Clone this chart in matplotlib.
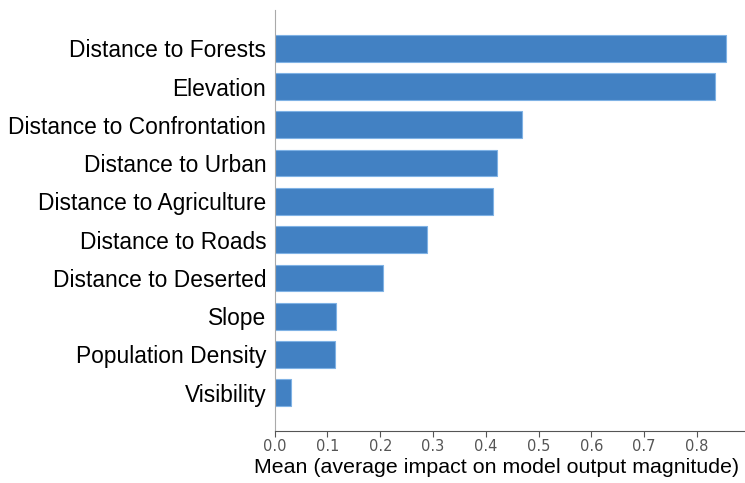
import matplotlib
matplotlib.use("Agg")
import matplotlib.pyplot as plt

features = ["Visibility", "Population Density", "Slope", "Distance to Deserted",
            "Distance to Roads", "Distance to Agriculture", "Distance to Urban",
            "Distance to Confrontation", "Elevation", "Distance to Forests"]
mean_shap = [0.030, 0.114, 0.117, 0.205, 0.288, 0.414, 0.421, 0.469, 0.835, 0.855]
xticks = [0.0, 0.1, 0.2, 0.3, 0.4, 0.5, 0.6, 0.7, 0.8]

plt.rcParams['font.family'] = ['Liberation Sans', 'DejaVu Sans']

fig = plt.figure(figsize=(7.45, 4.83), dpi=100)
ax = fig.add_axes([0.3687, 0.1077, 0.6313, 0.8716])

ypos = list(range(len(features)))
ax.barh(ypos, mean_shap, height=0.7, color='#4281C3', edgecolor='#7fb2e5', linewidth=0.8)

ax.set_yticks(ypos)
ax.set_yticklabels(features, fontsize=16.4, color='black')
ax.set_ylim(-1, 10)
ax.set_xlim(0, 0.891)
ax.set_xticks(xticks)
ax.set_xticklabels([f"{t:.1f}" for t in xticks], fontsize=10.5, color='#555555',
                   family=['DejaVu Sans'])
ax.set_xlabel("Mean (average impact on model output magnitude)", fontsize=15.4,
              color='black')
# label sits a bit left of the axes centre in the original
ax.xaxis.set_label_coords(0.471, -0.063)

ax.spines['top'].set_visible(False)
ax.spines['right'].set_visible(False)
ax.spines['left'].set_color('#aaaaaa')
ax.spines['bottom'].set_color('#555555')
ax.tick_params(axis='y', length=0, pad=6)
ax.tick_params(axis='x', length=4, color='#555555', pad=2)

fig.savefig("out.png", dpi=100)
